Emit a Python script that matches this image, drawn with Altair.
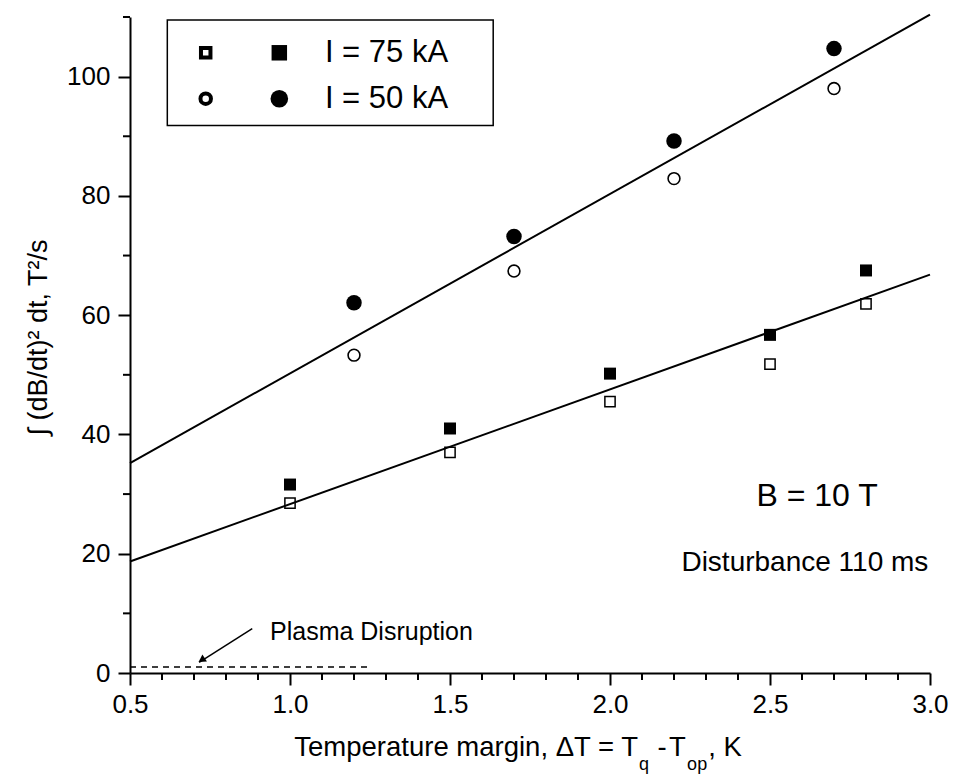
import altair as alt
import pandas as pd

# ---------------- data ----------------
x_squares = [1.0, 1.5, 2.0, 2.5, 2.8]
open_squares = [28.5, 37.0, 45.5, 51.8, 61.9]      # I = 75 kA (open)
filled_squares = [31.6, 41.0, 50.2, 56.7, 67.5]    # I = 75 kA (filled)

x_circles = [1.2, 1.7, 2.2, 2.7]
open_circles = [53.3, 67.4, 82.9, 98.0]            # I = 50 kA (open)
filled_circles = [62.1, 73.2, 89.2, 104.7]         # I = 50 kA (filled)

fit_x = [0.5, 3.0]
fit_upper = [35.2, 110.4]
fit_lower = [18.7, 66.8]

disruption_x = [0.5, 1.255]
disruption_y = [1.0, 1.0]

x_major = [0.5, 1.0, 1.5, 2.0, 2.5, 3.0]
x_minor = [0.6, 0.7, 0.8, 0.9, 1.1, 1.2, 1.3, 1.4, 1.6, 1.7, 1.8, 1.9,
           2.1, 2.2, 2.3, 2.4, 2.6, 2.7, 2.8, 2.9]
y_major = [0, 20, 40, 60, 80, 100]
y_minor = [10, 30, 50, 70, 90, 110]

legend_labels = ["I = 75 kA", "I = 50 kA"]

# ---------------- layout / style ----------------
W, H = 800, 656
FONT = "Liberation Sans"
xs = alt.Scale(domain=[0.5, 3.0], nice=False, zero=False)
ys = alt.Scale(domain=[0, 110], nice=False, zero=False)

x_axis = alt.Axis(values=x_major, format=".1f", tickSize=12, tickWidth=2,
                  domainWidth=2, domainColor="black", tickColor="black",
                  labelFont=FONT, labelFontSize=26, labelColor="black",
                  labelPadding=6, grid=False, title=None, labelFlush=False)
y_axis = alt.Axis(values=y_major, format="d", tickSize=12, tickWidth=2,
                  domainWidth=2, domainColor="black", tickColor="black",
                  labelFont=FONT, labelFontSize=26, labelColor="black",
                  labelPadding=8, grid=False, labelFlush=False,
                  title="∫ (dB/dt)² dt, T²/s", titleFont=FONT,
                  titleFontSize=27, titleFontWeight="normal",
                  titleColor="black", titlePadding=14, titleY=320)

X = lambda f: alt.X(f + ":Q", scale=xs, axis=x_axis)
Y = lambda f: alt.Y(f + ":Q", scale=ys, axis=y_axis)

minor_x = alt.Chart(pd.DataFrame({"x": x_minor})).mark_rule(color="black", strokeWidth=2).encode(
    x=X("x"), y=alt.value(H), y2=alt.value(H + 7))
minor_y = alt.Chart(pd.DataFrame({"y": y_minor})).mark_rule(color="black", strokeWidth=2).encode(
    y=Y("y"), x=alt.value(0), x2=alt.value(-7))

fits = pd.DataFrame({
    "x": fit_x + fit_x,
    "y": fit_upper + fit_lower,
    "g": ["upper", "upper", "lower", "lower"],
})
fit_lines = alt.Chart(fits).mark_line(color="black", strokeWidth=2).encode(
    x=X("x"), y=Y("y"), detail="g:N")

dash = alt.Chart(pd.DataFrame({"x": disruption_x, "y": disruption_y})).mark_line(
    color="black", strokeWidth=1.5, strokeDash=[6, 5]).encode(x=X("x"), y=Y("y"))

sq_df = pd.DataFrame({"x": x_squares, "o": open_squares, "f": filled_squares})
ci_df = pd.DataFrame({"x": x_circles, "o": open_circles, "f": filled_circles})

sq_open = alt.Chart(sq_df).mark_point(shape="square", filled=False, size=105,
                                      strokeWidth=1.5, color="black", opacity=1).encode(x=X("x"), y=Y("o"))
sq_fill = alt.Chart(sq_df).mark_point(shape="square", filled=True, size=144,
                                      color="black", opacity=1).encode(x=X("x"), y=Y("f"))
ci_open = alt.Chart(ci_df).mark_point(shape="circle", filled=False, size=140,
                                      strokeWidth=1.6, color="black", opacity=1).encode(x=X("x"), y=Y("o"))
ci_fill = alt.Chart(ci_df).mark_point(shape="circle", filled=True, size=240,
                                      color="black", opacity=1).encode(x=X("x"), y=Y("f"))

# ---------------- annotations ----------------
arrow_df = pd.DataFrame({"x": [0.882, 0.716], "y": [7.46, 1.8]})
arrow_line = alt.Chart(arrow_df).mark_line(color="black", strokeWidth=1.5).encode(x=X("x"), y=Y("y"))
arrow_head = alt.Chart(pd.DataFrame({"x": [0.727], "y": [2.3]})).mark_point(
    shape="triangle", filled=True, size=70, angle=237, color="black", opacity=1).encode(x=X("x"), y=Y("y"))

def label(txt, x, y, size, align="left", baseline="middle"):
    return alt.Chart(pd.DataFrame({"x": [x], "y": [y], "t": [txt]})).mark_text(
        font=FONT, fontSize=size, color="black", align=align, baseline=baseline).encode(
        x=X("x"), y=Y("y"), text="t:N")

texts = [
    label("Plasma Disruption", 0.9375, 6.8, 25),
    label("B = 10 T", 2.647, 29.6, 32, align="center"),
    label("Disturbance 110 ms", 2.609, 18.4, 28, align="center"),
    # x axis title composed of pieces (for subscripts)
    label("Temperature margin, \u0394T = T", 2.0875, -14.0, 27.5, align="right", baseline="alphabetic"),
    label("q", 2.091, -16.2, 18, baseline="alphabetic"),
    label("-", 2.163, -14.0, 27.5, align="center", baseline="alphabetic"),
    label("T", 2.184, -14.0, 27.5, baseline="alphabetic"),
    label("op", 2.241, -16.2, 18, baseline="alphabetic"),
    label(", K", 2.307, -14.0, 27.5, baseline="alphabetic"),
]

# ---------------- legend box ----------------
leg_box = alt.Chart(pd.DataFrame({"x": [0.6166], "x2": [1.635], "y": [91.8], "y2": [109.5]})).mark_rect(
    fill="white", stroke="black", strokeWidth=1.5).encode(
    x=X("x"), x2="x2:Q", y=Y("y"), y2="y2:Q")
leg_rows_y = [104.0, 96.3]
leg_df = pd.DataFrame({"y": leg_rows_y, "t": legend_labels,
                       "xo": [0.7366, 0.7366], "xf": [0.9666, 0.9666], "xt": [1.109, 1.109]})
leg_sq_open = alt.Chart(leg_df.iloc[[0]]).mark_point(shape="square", filled=False, size=90,
                                                     strokeWidth=4, color="black", opacity=1).encode(x=X("xo"), y=Y("y"))
leg_sq_fill = alt.Chart(leg_df.iloc[[0]]).mark_point(shape="square", filled=True, size=240,
                                                     color="black", opacity=1).encode(x=X("xf"), y=Y("y"))
leg_ci_open = alt.Chart(leg_df.iloc[[1]]).mark_point(shape="circle", filled=False, size=110,
                                                     strokeWidth=4, color="black", opacity=1).encode(x=X("xo"), y=Y("y"))
leg_ci_fill = alt.Chart(leg_df.iloc[[1]]).mark_point(shape="circle", filled=True, size=310,
                                                     color="black", opacity=1).encode(x=X("xf"), y=Y("y"))
leg_text = alt.Chart(leg_df).mark_text(font=FONT, fontSize=31, color="black", align="left",
                                       baseline="middle").encode(x=X("xt"), y=Y("y"), text="t:N")

chart = alt.layer(
    minor_x, minor_y, fit_lines, dash, arrow_line, arrow_head,
    sq_open, sq_fill, ci_open, ci_fill,
    leg_box, leg_sq_open, leg_sq_fill, leg_ci_open, leg_ci_fill, leg_text,
    *texts,
).properties(
    width=W, height=H,
    autosize=alt.AutoSizeParams(type="none"),
    padding={"left": 122, "top": 9, "right": 19, "bottom": 102},
    background="white",
).configure_view(stroke=None)

chart.save("out.html", embed_options={"renderer": "svg", "actions": False})
